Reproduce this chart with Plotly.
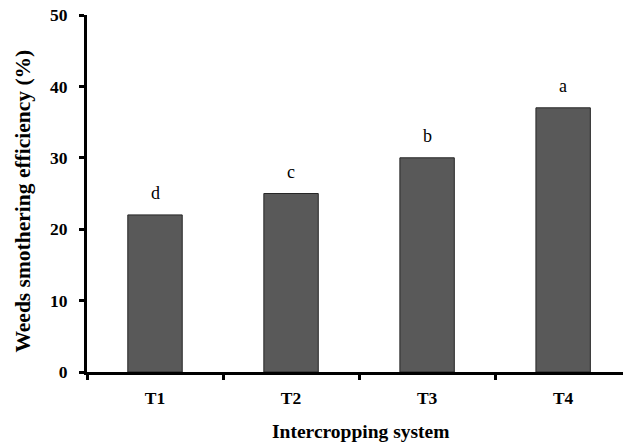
import plotly.graph_objects as go

categories = ["T1", "T2", "T3", "T4"]
values = [22, 25, 30, 37]
letters = ["d", "c", "b", "a"]
y_ticks = [0, 10, 20, 30, 40, 50]
x_title = "Intercropping system"
y_title = "Weeds smothering efficiency (%)"

FONT = "Liberation Serif, Times New Roman, serif"

fig = go.Figure()
fig.add_trace(go.Bar(
    x=categories, y=values, width=0.4,
    marker=dict(color="#595959", line=dict(color="#262626", width=1)),
    showlegend=False, hoverinfo="skip",
))
for c, v, l in zip(categories, values, letters):
    fig.add_annotation(x=c, y=v, text=l, showarrow=False, yanchor="bottom",
                       yshift=10, font=dict(family=FONT, size=18, color="black"))

# axis titles as annotations for precise placement
fig.add_annotation(xref="paper", yref="paper", x=0.511, y=0, yanchor="middle", xanchor="center",
                   yshift=-59, text=f"<b>{x_title}</b>", showarrow=False,
                   font=dict(family=FONT, size=19.5, color="black"))
fig.add_annotation(xref="paper", yref="paper", x=0, y=0.5, yanchor="middle", xanchor="center",
                   xshift=-65, yshift=-8, textangle=-90, text=f"<b>{y_title}</b>", showarrow=False,
                   font=dict(family=FONT, size=21.5, color="black"))

fig.update_layout(
    width=623, height=443,
    margin=dict(l=87, r=0, t=15, b=71, autoexpand=False),
    plot_bgcolor="white", paper_bgcolor="white",
    font=dict(family=FONT, color="black"),
    xaxis=dict(
        type="category", range=[-0.5, 3.44], automargin=False,
        tickson="boundaries", ticks="outside", ticklen=5, tickwidth=2.5, tickcolor="black",
        showline=True, linecolor="black", linewidth=2.5,
        showgrid=False, zeroline=False,
        tickvals=categories, ticktext=[f"<b>{c}</b>" for c in categories],
        tickfont=dict(family=FONT, size=17.5),
        ticklabelstandoff=8,
    ),
    yaxis=dict(
        range=[0, 50], tickvals=y_ticks, ticktext=[f"<b>{t}</b>" for t in y_ticks],
        automargin=False,
        ticks="outside", ticklen=5, tickwidth=2.5, tickcolor="black",
        showline=True, linecolor="black", linewidth=3,
        showgrid=False, zeroline=False,
        tickfont=dict(family=FONT, size=17.5),
        ticklabelstandoff=8,
    ),
)
fig.write_html("out.html", config={"displayModeBar": False},
               post_script="document.body.style.margin='0';")
